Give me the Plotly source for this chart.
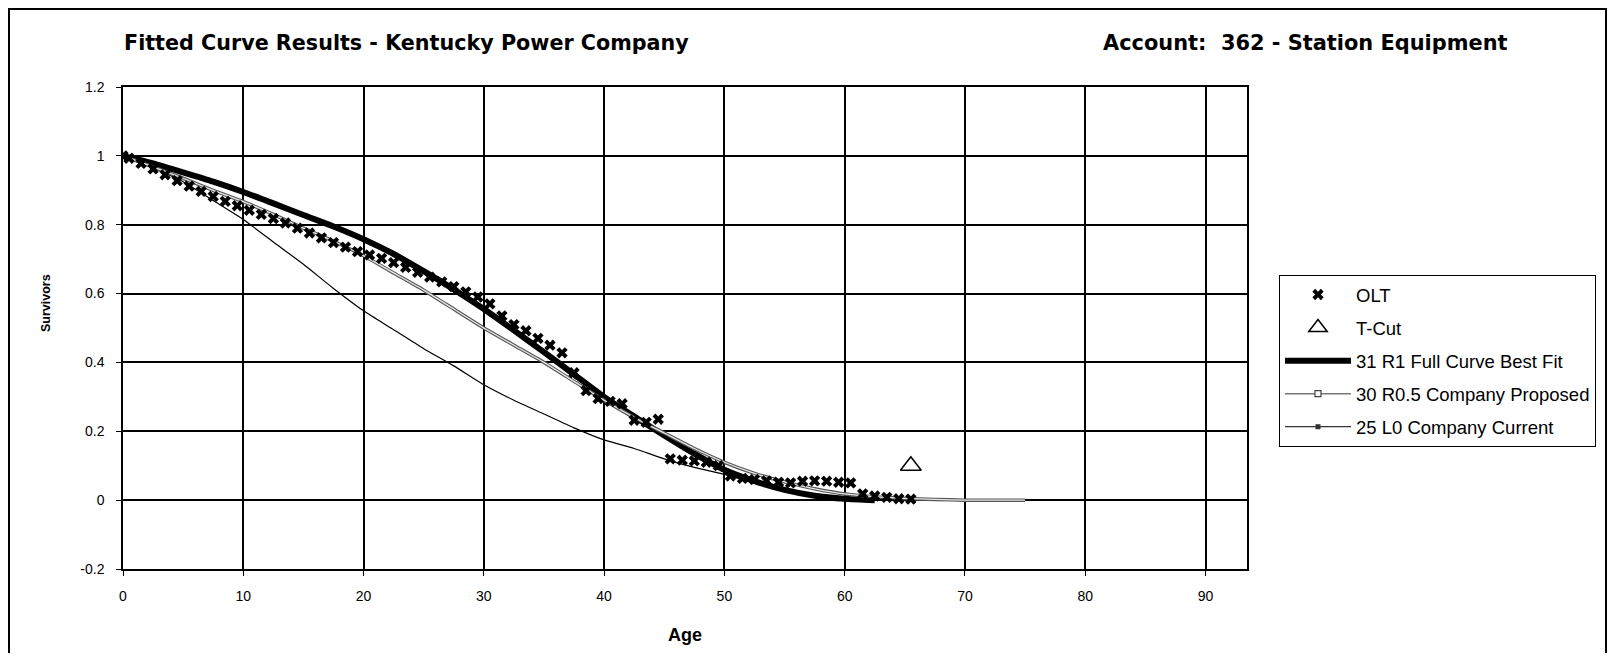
import plotly.graph_objects as go

# ---------------- data ----------------
olt_age = [0, 0.5, 1.5, 2.5, 3.5, 4.5, 5.5, 6.5, 7.5, 8.5, 9.5, 10.5, 11.5, 12.5, 13.5,
           14.5, 15.5, 16.5, 17.5, 18.5, 19.5, 20.5, 21.5, 22.5, 23.5, 24.5, 25.5, 26.5,
           27.5, 28.5, 29.5, 30.5, 31.5, 32.5, 33.5, 34.5, 35.5, 36.5, 37.5, 38.5, 39.5,
           40.5, 41.5, 42.5, 43.5, 44.5, 45.5, 46.5, 47.5, 48.5, 49.5, 50.5, 51.5, 52.5,
           53.5, 54.5, 55.5, 56.5, 57.5, 58.5, 59.5, 60.5, 61.5, 62.5, 63.5, 64.5, 65.5]
olt_val = [1.0, 0.993, 0.978, 0.962, 0.945, 0.928, 0.912, 0.897, 0.882, 0.868, 0.855,
           0.842, 0.83, 0.818, 0.805, 0.79, 0.776, 0.762, 0.748, 0.735, 0.722, 0.712,
           0.702, 0.69, 0.676, 0.662, 0.648, 0.634, 0.62, 0.605, 0.59, 0.57, 0.535, 0.51,
           0.492, 0.47, 0.45, 0.428, 0.37, 0.318, 0.295, 0.287, 0.28, 0.232, 0.226, 0.235,
           0.12, 0.116, 0.114, 0.11, 0.1, 0.07, 0.063, 0.06, 0.056, 0.052, 0.05, 0.055,
           0.056, 0.055, 0.052, 0.05, 0.018, 0.012, 0.008, 0.004, 0.003]

tcut_age = [65.5]
tcut_val = [0.10]

r1_age = [0, 2.5, 5, 7.5, 10, 12.5, 15, 17.5, 20, 22.5, 25, 27.5, 30, 32.5, 35, 37.5,
          40, 42.5, 45, 47.5, 50, 52.5, 55, 57.5, 60, 62.5]
r1_val = [1.0, 0.978, 0.952, 0.925, 0.895, 0.862, 0.828, 0.795, 0.758, 0.715, 0.665,
          0.612, 0.555, 0.493, 0.43, 0.365, 0.30, 0.243, 0.188, 0.135, 0.088, 0.055,
          0.03, 0.013, 0.004, 0.0]

r05_age = [0, 2.5, 5, 7.5, 10, 12.5, 15, 17.5, 20, 22.5, 25, 27.5, 30, 32.5, 35, 37.5,
           40, 42.5, 45, 47.5, 50, 52.5, 55, 57.5, 60, 62.5, 65, 67.5, 70, 75]
r05_val = [1.0, 0.968, 0.935, 0.90, 0.867, 0.83, 0.79, 0.752, 0.71, 0.66, 0.61, 0.555,
           0.50, 0.45, 0.40, 0.345, 0.29, 0.24, 0.195, 0.15, 0.11, 0.078, 0.053, 0.033,
           0.018, 0.01, 0.005, 0.002, 0.0, 0.0]

l0_age = [0, 2.5, 5, 7.5, 10, 12.5, 15, 17.5, 20, 22.5, 25, 27.5, 30, 32.5, 35, 37.5,
          40, 42.5, 45, 47.5, 50, 52.5, 55, 57.5, 60, 62.5, 65]
l0_val = [1.0, 0.965, 0.925, 0.87, 0.815, 0.75, 0.685, 0.615, 0.55, 0.495, 0.44, 0.39,
          0.335, 0.29, 0.25, 0.21, 0.175, 0.15, 0.12, 0.095, 0.075, 0.05, 0.032, 0.018,
          0.008, 0.003, 0.0]

x_ticks = [0, 10, 20, 30, 40, 50, 60, 70, 80, 90]
x_tick_text = ["0", "10", "20", "30", "40", "50", "60", "70", "80", "90"]
y_ticks = [-0.2, 0, 0.2, 0.4, 0.6, 0.8, 1.0, 1.2]
y_tick_text = ["-0.2", "0", "0.2", "0.4", "0.6", "0.8", "1", "1.2"]

# ---------------- geometry (page body has an 8px margin) ----------------
OFF = 8
W, H = 1615 - 2 * OFF, 661 - 2 * OFF
L, R, T, B = 123 - OFF, 1247 - OFF, 87 - OFF, 569 - OFF
PW, PH = R - L, B - T


def px(x):
    """window x (reference pixels) -> paper x"""
    return (x - OFF - L) / PW


def py(y):
    """window y (reference pixels) -> paper y"""
    return (B - (y - OFF)) / PH


SPL = dict(shape="spline", smoothing=0.6)
fig = go.Figure()

# ---- plotted curves (drawing order: L0, R1, R0.5, OLT, T-Cut) ----
fig.add_trace(go.Scatter(
    x=l0_age, y=l0_val, mode="lines", showlegend=False, hoverinfo="skip",
    line=dict(color="black", width=1.2, **SPL)))
fig.add_trace(go.Scatter(
    x=r1_age, y=r1_val, mode="lines", showlegend=False, hoverinfo="skip",
    line=dict(color="black", width=6, **SPL)))
fig.add_trace(go.Scatter(
    x=r05_age, y=r05_val, mode="lines", showlegend=False, hoverinfo="skip",
    line=dict(color="#555555", width=3.5, **SPL)))
fig.add_trace(go.Scatter(
    x=r05_age, y=r05_val, mode="lines", showlegend=False, hoverinfo="skip",
    line=dict(color="#e6e6e6", width=1.3, **SPL)))

# ---- legend entries (in reference order) ----
fig.add_trace(go.Scatter(
    x=olt_age, y=olt_val, name="OLT", mode="markers",
    marker=dict(symbol="x", size=10, color="black", line=dict(width=0)),
    legendgroup="g1", legendrank=1))
fig.add_trace(go.Scatter(
    x=tcut_age, y=tcut_val, name="T-Cut", mode="markers",
    marker=dict(symbol="triangle-up-open", size=18, color="black", line=dict(width=1.5)),
    legendgroup="g2", legendrank=2))
fig.add_trace(go.Scatter(
    x=[None], y=[None], name="31 R1 Full Curve Best Fit", mode="lines",
    line=dict(color="black", width=6),
    legendgroup="g3", legendrank=3))
fig.add_trace(go.Scatter(
    x=[None], y=[None], name="30 R0.5 Company Proposed", mode="lines+markers",
    line=dict(color="#777777", width=1.5),
    marker=dict(symbol="square", size=6, color="white", line=dict(color="#444444", width=1.2)),
    legendgroup="g4", legendrank=4))
fig.add_trace(go.Scatter(
    x=[None], y=[None], name="25 L0 Company Current", mode="lines+markers",
    line=dict(color="black", width=1),
    marker=dict(symbol="square", size=5, color="#333333"),
    legendgroup="g5", legendrank=5))

axis_common = dict(
    showgrid=True, gridcolor="black", gridwidth=1.5,
    showline=True, linecolor="black", linewidth=1.5, mirror=True,
    ticks="outside", ticklen=5, tickcolor="black", tickwidth=1,
    zeroline=False,
    tickfont=dict(family="Arial", size=14, color="black"),
)

fig.update_xaxes(range=[0, 93.45], tickvals=x_ticks, ticktext=x_tick_text,
                 ticklabelstandoff=8, **axis_common)
fig.update_yaxes(range=[-0.2, 1.2], tickvals=y_ticks, ticktext=y_tick_text,
                 ticklabelstandoff=9, **axis_common)

annotations = [
    dict(text="<b>Fitted Curve Results - Kentucky Power Company</b>",
         x=px(122), y=py(43), xanchor="left", yanchor="middle",
         font=dict(family="DejaVu Sans", size=20.7, color="black")),
    dict(text="<b>Account:\u00a0 362 - Station Equipment</b>",
         x=px(1101), y=py(43), xanchor="left", yanchor="middle",
         font=dict(family="DejaVu Sans", size=20.9, color="black")),
    dict(text="<b>Survivors</b>", textangle=-90,
         x=px(46), y=py(303), xanchor="center", yanchor="middle",
         font=dict(family="Arial", size=12.5, color="black")),
    dict(text="<b>Age</b>",
         x=px(685), y=py(635), xanchor="center", yanchor="middle",
         font=dict(family="Arial", size=18, color="black")),
]
for a in annotations:
    a.update(xref="paper", yref="paper", showarrow=False)

fig.update_layout(
    width=W, height=H,
    margin=dict(l=L, r=W - R, t=T, b=H - B, autoexpand=False),
    paper_bgcolor="white", plot_bgcolor="white",
    showlegend=True,
    legend=dict(
        x=px(1279), y=py(275), xanchor="left", yanchor="top",
        bordercolor="black", borderwidth=1, bgcolor="white",
        font=dict(family="Arial", size=18.5, color="black"),
        itemwidth=66, traceorder="grouped", tracegroupgap=6,
    ),
    annotations=annotations,
    shapes=[dict(type="rect", xref="paper", yref="paper",
                 x0=(1 - L) / PW, x1=(W - 1 - L) / PW,
                 y0=(B - (H + 20)) / PH, y1=(B - 1) / PH,
                 line=dict(color="black", width=2), fillcolor="rgba(0,0,0,0)",
                 layer="below")],
)

fig.write_html("out.html")
